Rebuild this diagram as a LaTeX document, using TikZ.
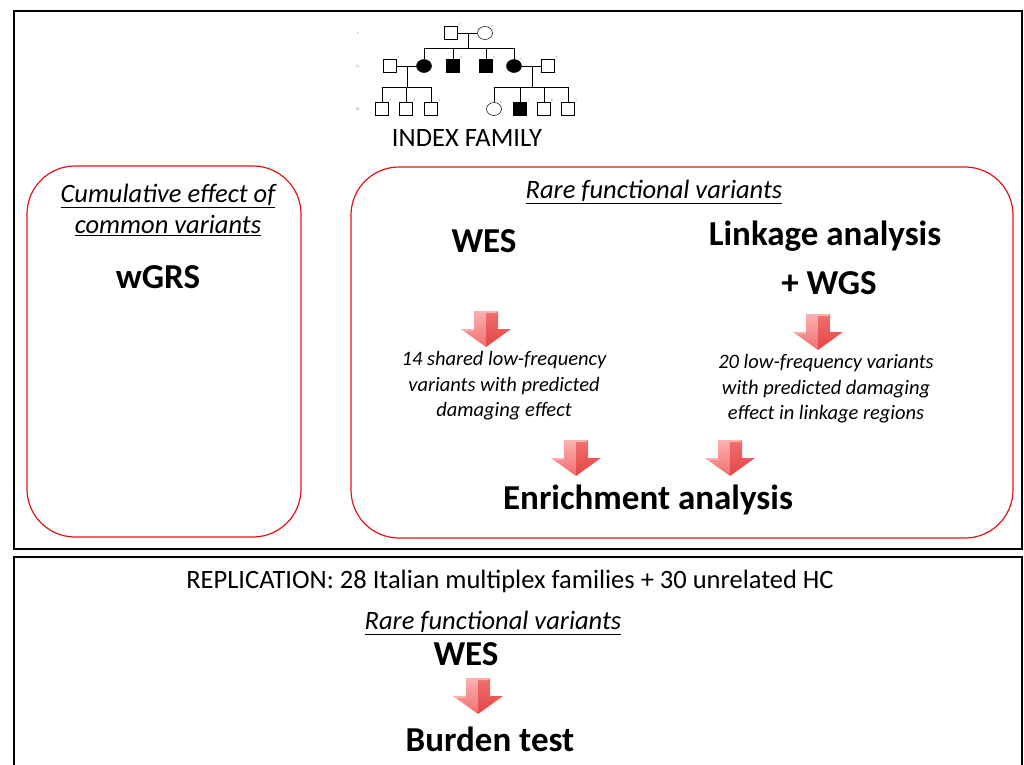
\documentclass[tikz,border=0pt]{standalone}
\usepackage{fontspec}
\setmainfont{Carlito}
\usetikzlibrary{shapes.geometric}

\definecolor{boxred}{RGB}{228,20,20}
\definecolor{arrlight}{RGB}{250,178,176}
\definecolor{arrmid}{RGB}{242,110,110}
\definecolor{arrdark}{RGB}{228,70,70}

\tikzset{
  male/.style={rectangle, draw, minimum size=13pt, inner sep=0pt, line width=0.5pt},
  female/.style={ellipse, draw, minimum width=15pt, minimum height=13pt, inner sep=0pt, line width=0.5pt},
  affected/.style={fill=black},
  pedline/.style={line width=0.5pt},
  pednum/.style={font=\fontsize{3.5}{4}\selectfont, text=gray, inner sep=0.5pt},
  gen/.style={font=\fontsize{4}{5}\selectfont, text=gray},
  panel/.style={draw=black, line width=1.6pt},
  group/.style={draw=boxred, line width=1.2pt, rounded corners=48pt},
  head/.style={font=\bfseries\fontsize{35}{40}\selectfont},
  note/.style={font=\itshape\fontsize{20.5}{25.5}\selectfont, align=center},
  title/.style={font=\itshape\fontsize{26.5}{31}\selectfont, align=center},
  plain/.style={font=\fontsize{26.5}{30}\selectfont},
  blockarrow/.pic={
    \shade[top color=arrlight, bottom color=arrmid] (-12,-18) -- (0,-18) -- (0,18) -- (-25,0) -- (-12,0) -- cycle;
    \shade[top color=arrmid, bottom color=arrdark] (0,-18) -- (12,-18) -- (12,0) -- (25,0) -- (0,18) -- cycle;
    \fill[arrlight] (-25,0) -- (-12,0) -- (-12,2) -- (-21,2) -- cycle;
    \fill[arrlight] (-12,-18) -- (12,-18) -- (10,-16) -- (-10,-16) -- cycle;
  }
}

\begin{document}
\begin{tikzpicture}[x=1pt, y=-1pt]
\useasboundingbox (0,0) rectangle (1024,764);

% panels
\draw[panel] (14,11) rectangle (1022,549);
\draw[panel] (14,770) -- (14,557) -- (1022,557) -- (1022,770);

% pedigree
\node[gen] at (358,33) {I.};
\node[gen] at (358,66) {II.};
\node[gen] at (358,109) {III.};

\node[male, label={[pednum]north east:1}] (i1) at (451,33) {};
\node[female, label={[pednum]north east:2}] (i2) at (485,33) {};

\node[male, label={[pednum]north east:1}] (ii1) at (390,66) {};
\node[female, affected, label={[pednum]north east:2}] (ii2) at (424,66) {};
\node[male, affected, label={[pednum]north east:3}] (ii3) at (453,66) {};
\node[male, affected, label={[pednum]north east:4}] (ii4) at (486,66) {};
\node[female, affected, label={[pednum]north east:5}] (ii5) at (514,66) {};
\node[male, label={[pednum]north east:6}] (ii6) at (548,66) {};

\node[male, label={[pednum]north east:1}] (iii1) at (382,109) {};
\node[male, label={[pednum]north east:2}] (iii2) at (406,109) {};
\node[male, label={[pednum]north east:3}] (iii3) at (431,109) {};
\node[female, label={[pednum]north east:6}] (iii4) at (494,109) {};
\node[male, affected, label={[pednum]north east:7}] (iii5) at (520,109) {};
\node[male, label={[pednum]north east:8}] (iii6) at (544,109) {};
\node[male, label={[pednum]north east:7}] (iii7) at (568,109) {};

\coordinate (m1) at (468,33);
\coordinate (s1) at (468,48);
\coordinate (m2) at (407,66);
\coordinate (s2) at (407,87);
\coordinate (m3) at (532,66);
\coordinate (s3) at (532,87);

\draw[pedline] (i1) -- (i2);
\draw[pedline] (m1) -- (s1);
\draw[pedline] (ii2.north |- s1) -- (ii5.north |- s1);
\foreach \k in {ii2,ii3,ii4,ii5}
  \draw[pedline] (\k.north |- s1) -- (\k.north);

\draw[pedline] (ii1) -- (ii2);
\draw[pedline] (m2) -- (s2);
\draw[pedline] (iii1.north |- s2) -- (iii3.north |- s2);
\foreach \k in {iii1,iii2,iii3}
  \draw[pedline] (\k.north |- s2) -- (\k.north);

\draw[pedline] (ii5) -- (ii6);
\draw[pedline] (m3) -- (s3);
\draw[pedline] (iii4.north |- s3) -- (iii7.north |- s3);
\foreach \k in {iii4,iii5,iii6,iii7}
  \draw[pedline] (\k.north |- s3) -- (\k.north);

\node[plain] (family) at (467,138) {INDEX FAMILY};

% common variants
\draw[group] (27,166) rectangle (301,537);
\node[title] (common) at (168,210) {\underline{Cumulative effect of}\\\underline{common variants}};
\node[head] (wgrs) at (158,277) {wGRS};

% rare variants
\draw[group] (351,167) rectangle (1013,538);
\node[title] (rare) at (654,192) {\underline{Rare functional variants}};
\node[head] (wes) at (484,241) {WES};
\node[head] (linkage) at (825,236) {Linkage analysis};
\node[head] (wgs) at (829,283) {+ WGS};

\pic (a1) at (486,329) {blockarrow};
\pic (a2) at (818,332) {blockarrow};

\node[note] (wesres) at (504,386) {14 shared low-frequency\\variants with predicted\\damaging effect};
\node[note] (linkres) at (826,389) {20 low-frequency variants\\with predicted damaging\\effect in linkage regions};

\pic (a3) at (576,458) {blockarrow};
\pic (a4) at (730,458) {blockarrow};

\node[head] (enrich) at (648,500) {Enrichment analysis};

% replication
\node[plain] (repl) at (510,581) {REPLICATION: 28 Italian multiplex families + 30 unrelated HC};
\node[title] (rare2) at (493,623) {\underline{Rare functional variants}};
\node[head] (wes2) at (466,654) {WES};
\pic (a5) at (478,696) {blockarrow};
\node[head] (burden) at (490,739) {Burden test};

\end{tikzpicture}
\end{document}
